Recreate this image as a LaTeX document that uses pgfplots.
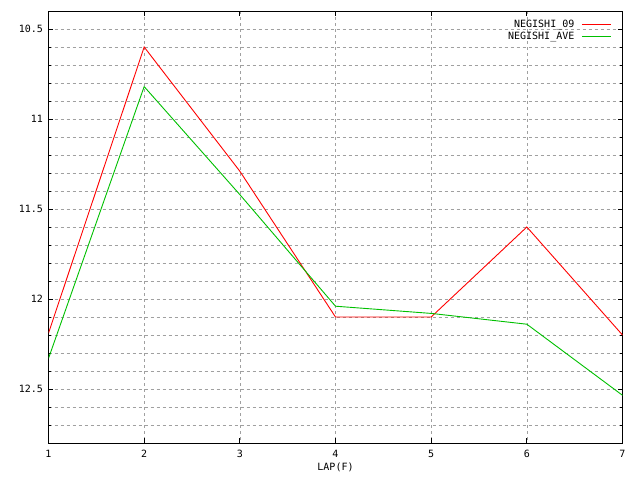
\documentclass[border=0pt]{standalone}
\usepackage{fontspec}
\setmainfont{DejaVu Sans Mono}
\usepackage{pgfplots}
\pgfplotsset{compat=1.18}
\definecolor{gpred}{RGB}{255,0,0}
\definecolor{gpgreen}{RGB}{0,192,0}
\definecolor{gpgrid}{RGB}{160,160,160}
\begin{document}
\begin{tikzpicture}[x=1pt,y=1pt]
\useasboundingbox (0,0) rectangle (640,480);
\begin{axis}[
  at={(48.5pt,37pt)}, anchor=south west,
  scale only axis, width=574pt, height=432pt,
  xmin=1, xmax=7, ymin=10.4, ymax=12.8, y dir=reverse,
  xtick={1,...,7},
  ytick={10.5,11,11.5,12,12.5},
  minor ytick={10.4,10.6,10.7,10.8,10.9,11.1,11.2,11.3,11.4,11.6,11.7,11.8,11.9,12.1,12.2,12.3,12.4,12.6,12.7},
  yticklabels={10.5,11,11.5,12,12.5},
  grid=both,
  grid style={gpgrid, dash pattern=on 3pt off 3pt, line width=0.6pt},
  minor grid style={gpgrid, dash pattern=on 3pt off 3pt, line width=0.6pt},
  tick align=inside,
  major tick length=5pt, minor tick length=3pt,
  tick style={black, line width=0.8pt},
  axis line style={line width=1pt},
  tick label style={font=\fontsize{10}{12}\selectfont},
  /pgf/number format/assume math mode=true,
  yticklabel style={xshift=-2pt},
  xticklabel style={yshift=-4pt},
  xlabel={LAP(F)},
  xlabel style={font=\fontsize{10}{12}\selectfont, yshift=2pt},
  legend plot pos=right,
  legend cell align=right,
  legend style={draw=none, fill=none, at={(1,1)}, anchor=north east,
    xshift=-10pt, yshift=-5.5pt, font=\fontsize{10}{12}\selectfont,
    row sep=-1pt, inner sep=1pt},
]
\addplot[color=gpred, line width=0.9pt,
  legend image code/.code={\path (0pt,0pt); \draw[gpred, line width=1pt] (5pt,0pt) -- (34pt,0pt);}]
coordinates {
  (1,12.19) (2,10.60) (3,11.29) (4,12.10) (5,12.10) (6,11.60) (7,12.20)
};
\addlegendentry{NEGISHI\_09}
\addplot[color=gpgreen, line width=0.9pt,
  legend image code/.code={\path (0pt,0pt); \draw[gpgreen, line width=1pt] (5pt,0pt) -- (34pt,0pt);}]
coordinates {
  (1,12.33) (2,10.82) (3,11.42) (4,12.04) (5,12.08) (6,12.14) (7,12.535)
};
\addlegendentry{NEGISHI\_AVE}
\end{axis}
\end{tikzpicture}
\end{document}
